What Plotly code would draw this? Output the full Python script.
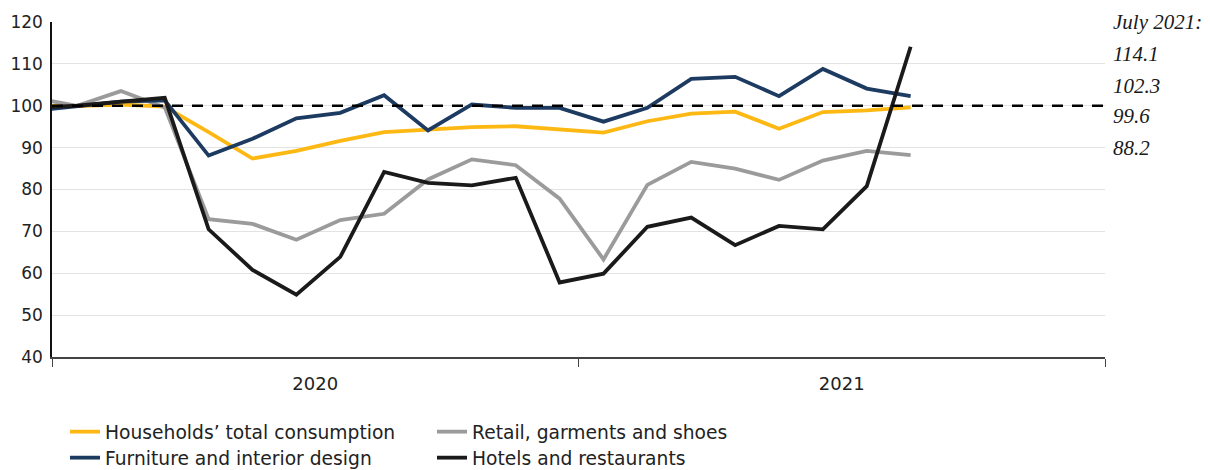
import plotly.graph_objects as go

months = ["Nov 2019", "Dec 2019", "Jan 2020", "Feb 2020", "Mar 2020", "Apr 2020", "May 2020",
          "Jun 2020", "Jul 2020", "Aug 2020", "Sep 2020", "Oct 2020", "Nov 2020", "Dec 2020",
          "Jan 2021", "Feb 2021", "Mar 2021", "Apr 2021", "May 2021", "Jun 2021", "Jul 2021"]

households = [100.0, 99.9, 100.3, 99.8, 93.7, 87.4, 89.2, 91.6, 93.7, 94.3, 94.9, 95.1,
              94.3, 93.6, 96.3, 98.1, 98.6, 94.5, 98.5, 98.9, 99.6]
retail = [101.9, 100.0, 103.5, 99.6, 72.9, 71.8, 68.0, 72.7, 74.2, 82.4, 87.2, 85.8,
          77.8, 63.3, 81.1, 86.6, 85.0, 82.3, 86.9, 89.2, 88.2]
furniture = [98.8, 100.0, 101.0, 101.3, 88.1, 92.1, 97.0, 98.3, 102.5, 94.1, 100.3, 99.5,
             99.5, 96.2, 99.5, 106.4, 106.9, 102.3, 108.8, 104.1, 102.3]
hotels = [99.5, 100.0, 101.0, 101.9, 70.5, 60.8, 54.9, 63.9, 84.2, 81.6, 81.0, 82.8,
          57.8, 59.9, 71.1, 73.3, 66.7, 71.3, 70.5, 80.8, 114.1]

series_names = ["Households\u2019 total consumption", "Retail, garments and shoes",
                "Furniture and interior design", "Hotels and restaurants"]
series_values = [households, retail, furniture, hotels]
series_colors = ["#FDB813", "#9B9B9B", "#1D3A61", "#1A1A1A"]
series_legend = ["legend", "legend", "legend2", "legend2"]

year_labels = ["2020", "2021"]
reference_level = 100
latest_header = "July 2021:"
latest_values = ["114.1", "102.3", "99.6", "88.2"]

# month offset: Dec 2019 = 0
x = [i - 1 for i in range(len(months))]
year_start = -0.57  # axis begins here (start of 2020 band)

fig = go.Figure()
for name, vals, col, lg in zip(series_names, series_values, series_colors, series_legend):
    fig.add_trace(go.Scatter(
        x=x, y=vals, name=name, mode="lines", legend=lg,
        line=dict(color=col, width=3.8),
        customdata=months, hovertemplate="%{customdata}: %{y}<extra>" + name + "</extra>",
    ))

fig.add_shape(type="line", xref="x domain", x0=0, x1=1, yref="y",
              y0=reference_level, y1=reference_level,
              line=dict(color="black", width=2.5, dash="11px,9px"), layer="above")

# page body has an 8px margin; figure sized to fill the rest of the 1210x470 window
OFF = 8
W, H = 1210 - OFF, 470 - OFF
ml, mr, mt, mb = 52 - OFF, 105, 22 - OFF, 113
ph = H - mt - mb
pw = W - ml - mr


def py_to_paper(py_abs):
    return ((H - mb) - (py_abs - OFF)) / ph


serif = dict(family="Liberation Serif", size=21, color="#1a1a1a")
ann_texts = [latest_header] + latest_values
ann_px = [22.5, 54, 85.5, 116.5, 147.5]
for t, py in zip(ann_texts, ann_px):
    fig.add_annotation(text="<i>" + t + "</i>", xref="paper", yref="paper",
                       x=1, y=py_to_paper(py), xanchor="left", yanchor="middle",
                       xshift=6, showarrow=False, font=serif)

legend_common = dict(orientation="h", xanchor="left", yanchor="middle",
                     entrywidth=322, font=dict(size=18.7), bgcolor="rgba(0,0,0,0)")

fig.update_layout(
    width=W, height=H,
    margin=dict(l=ml, r=mr, t=mt, b=mb, autoexpand=False),
    paper_bgcolor="white", plot_bgcolor="white",
    font=dict(family="DejaVu Sans", size=17, color="#222222"),
    showlegend=True,
    legend=dict(x=13 / pw, y=py_to_paper(432), **legend_common),
    legend2=dict(x=13 / pw, y=py_to_paper(458), **legend_common),
    xaxis=dict(
        range=[year_start, year_start + 24],
        tickmode="array",
        tickvals=[year_start + 6, year_start + 18],
        ticktext=year_labels,
        tickfont=dict(size=18),
        ticks="", showgrid=False, zeroline=False,
        showline=True, linecolor="#444444", linewidth=1.5,
        ticklabelstandoff=10,
        minor=dict(tickmode="array", tickvals=[year_start, year_start + 12, year_start + 24],
                   ticks="outside", ticklen=8, tickcolor="#444444", tickwidth=1.2,
                   showgrid=False),
    ),
    yaxis=dict(
        range=[40, 120], tickmode="linear", tick0=40, dtick=10,
        tickfont=dict(size=17),
        showgrid=True, gridcolor="#e3e3e3", gridwidth=1,
        zeroline=False, showline=True, linecolor="#111111", linewidth=1.5,
        ticks="", ticklabelstandoff=4,
    ),
)

fig.write_html("out.html")
